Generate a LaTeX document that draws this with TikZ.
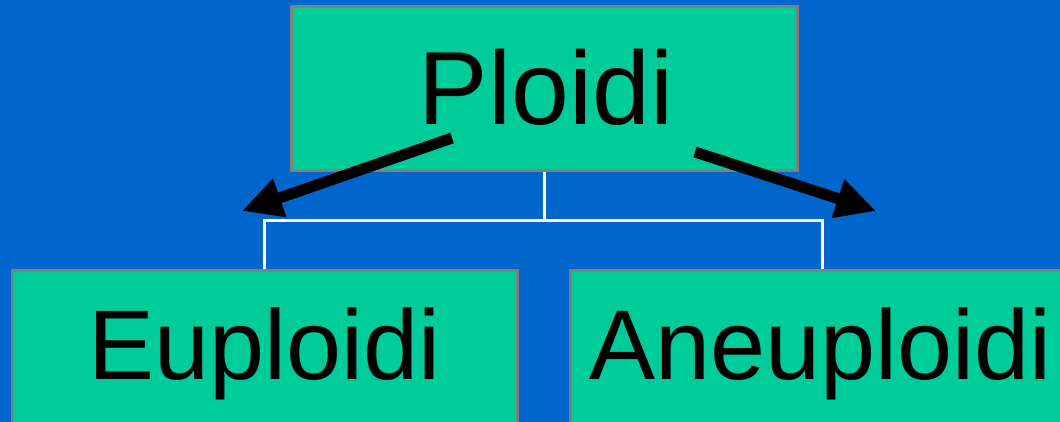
\documentclass[tikz,border=0pt]{standalone}
\usepackage{fontspec}
\setmainfont{Liberation Sans}
\usetikzlibrary{arrows.meta}
\definecolor{bgblue}{HTML}{0066CC}
\definecolor{boxgreen}{HTML}{00CC99}
\definecolor{boxgray}{HTML}{808080}
\begin{document}
\begin{tikzpicture}[x=1pt,y=-1pt,
  box/.style={draw=boxgray, line width=3pt, fill=boxgreen, inner sep=0pt},
  lbl/.style={anchor=base, inner sep=0pt, text=black},
  conn/.style={draw=white, line width=3pt},
  arr/.style={draw=black, line width=11pt, -{Triangle[length=40pt,width=38pt]}}]
\useasboundingbox (0,0) rectangle (1060,422);
\clip (0,0) rectangle (1060,422);
\fill[bgblue] (0,0) rectangle (1060,422);
% boxes
\node[box, minimum width=506pt, minimum height=164pt] (top) at (544,89) {};
\node[box, minimum width=505pt, minimum height=190pt] (left) at (264.5,365) {};
\node[box, minimum width=505pt, minimum height=190pt] (right) at (822.5,365) {};
% labels
\node[lbl, font=\fontsize{104}{104}\selectfont] (tPloidi) at (546,125) {Ploidi};
\node[lbl, font=\fontsize{99}{99}\selectfont] (tEu) at (264.5,379) {Euploidi};
\node[lbl, font=\fontsize{99}{99}\selectfont] (tAn) at (820.5,379) {Aneuploidi};
% white connectors
\coordinate (hub) at (544,221);
\draw[conn] (top.south) -- (hub);
\draw[conn] (left.north) |- (hub) -| (right.north);
% black arrows
\coordinate (a1s) at (452,138);
\coordinate (a1e) at (242,211);
\coordinate (a2s) at (695,152);
\coordinate (a2e) at (876,211);
\draw[arr] (a1s) -- (a1e);
\draw[arr] (a2s) -- (a2e);
\end{tikzpicture}
\end{document}
